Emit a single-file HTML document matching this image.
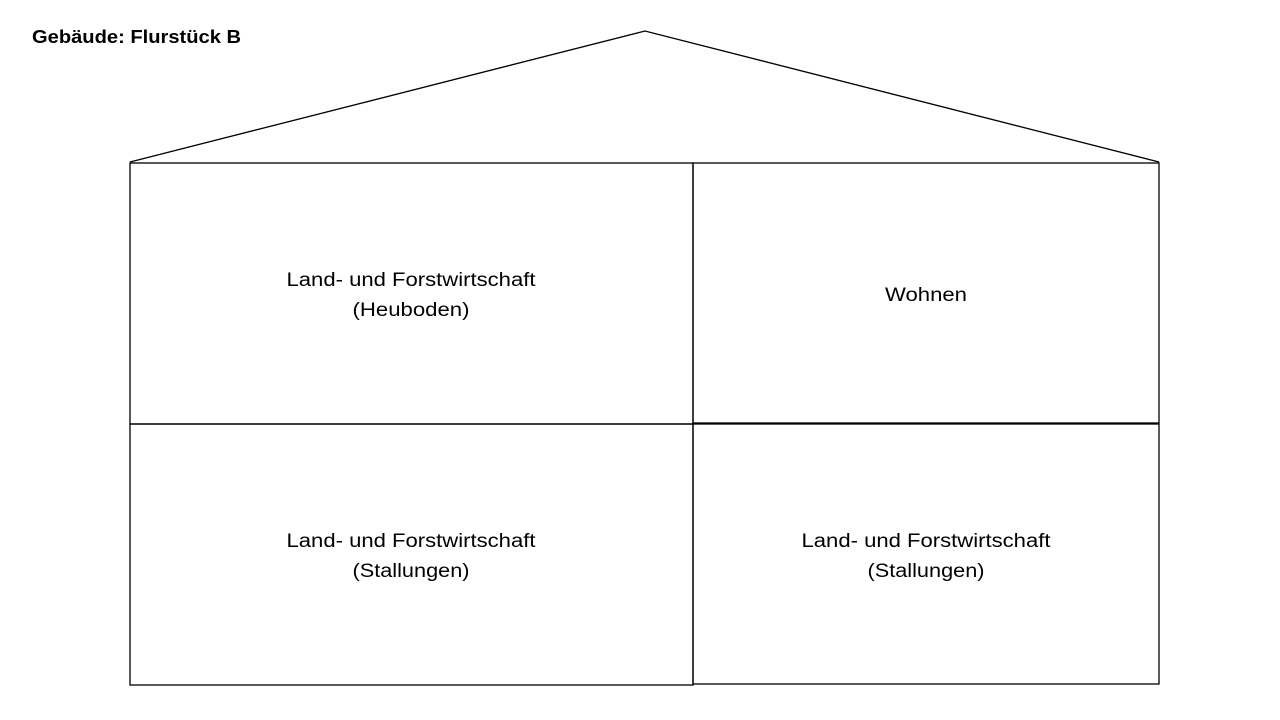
<!DOCTYPE html>
<html><head><meta charset="utf-8"><style>
html,body{margin:0;padding:0;background:#fff;width:1280px;height:720px;overflow:hidden}
svg{display:block}
text{font-family:"Liberation Sans",sans-serif;fill:#000}
</style></head><body>
<svg width="1280" height="720" viewBox="0 0 1280 720">
<g fill="none" stroke="#000" stroke-width="1.3">
<polyline points="130,162 645,31 1159,162"/>
<rect x="130" y="163" width="563" height="261"/>
<rect x="130" y="424" width="563" height="261"/>
<rect x="693" y="163" width="466" height="260"/>
<rect x="693" y="424" width="466" height="260"/>
</g>
<text x="32" y="43" font-size="18" font-weight="bold" textLength="209" lengthAdjust="spacingAndGlyphs">Gebäude: Flurstück B</text>
<g font-size="19" text-anchor="middle">
<text x="411" y="286" textLength="249" lengthAdjust="spacingAndGlyphs">Land- und Forstwirtschaft</text>
<text x="411" y="316" textLength="117" lengthAdjust="spacingAndGlyphs">(Heuboden)</text>
<text x="926" y="301" textLength="82" lengthAdjust="spacingAndGlyphs">Wohnen</text>
<text x="411" y="547" textLength="249" lengthAdjust="spacingAndGlyphs">Land- und Forstwirtschaft</text>
<text x="411" y="577" textLength="117" lengthAdjust="spacingAndGlyphs">(Stallungen)</text>
<text x="926" y="547" textLength="249" lengthAdjust="spacingAndGlyphs">Land- und Forstwirtschaft</text>
<text x="926" y="577" textLength="117" lengthAdjust="spacingAndGlyphs">(Stallungen)</text>
</g>
</svg>
</body></html>
